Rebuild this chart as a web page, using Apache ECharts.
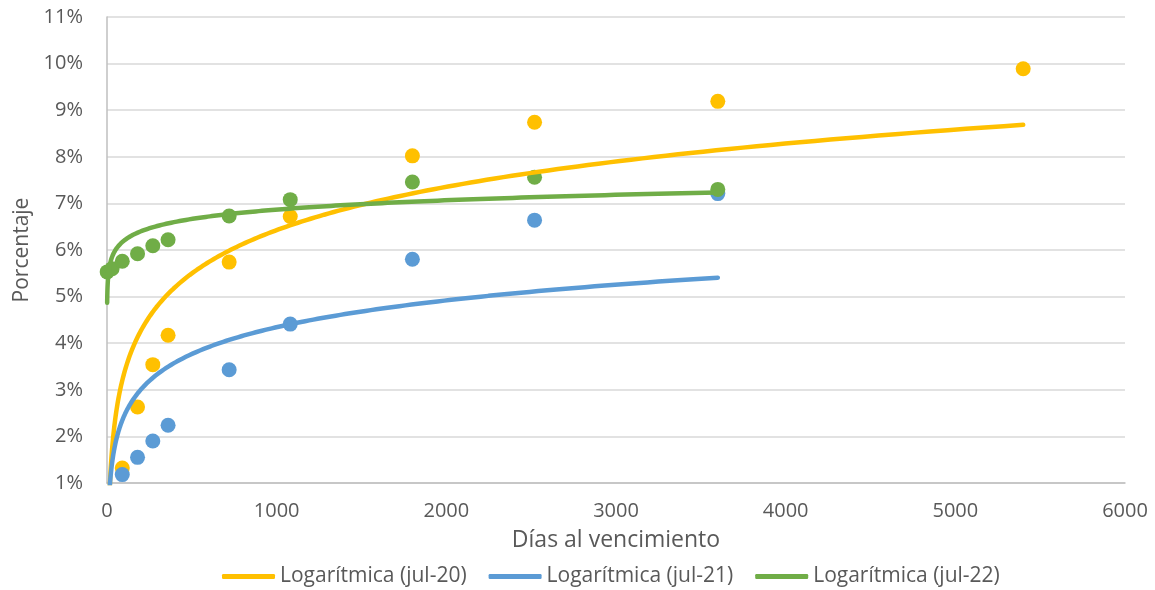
<!DOCTYPE html>
<html>
<head>
<meta charset="utf-8">
<title>Curva de rendimientos</title>
<script src="https://cdn.jsdelivr.net/npm/echarts@6.0.0/dist/echarts.min.js"></script>
<style>
  html, body { margin: 0; padding: 0; background: #ffffff; }
  #chart { width: 1155px; height: 590px; }
</style>
</head>
<body>
<div id="chart"></div>
<script>
// Observed rates (%) by days to maturity
const daysJul20 = [90, 180, 270, 360, 720, 1080, 1800, 2520, 3600, 5400];
const rateJul20 = [1.32, 2.63, 3.54, 4.17, 5.74, 6.72, 8.02, 8.74, 9.19, 9.89];

const daysJul21 = [90, 180, 270, 360, 720, 1080, 1800, 2520, 3600];
const rateJul21 = [1.18, 1.55, 1.90, 2.24, 3.43, 4.41, 5.80, 6.64, 7.21];

const daysJul22 = [1, 30, 90, 180, 270, 360, 720, 1080, 1800, 2520, 3600];
const rateJul22 = [5.53, 5.60, 5.76, 5.92, 6.09, 6.22, 6.73, 7.08, 7.46, 7.56, 7.30];

// Logarithmic trendlines: rate = slope * ln(days) + intercept
const seriesNames    = ['jul-20', 'jul-21', 'jul-22'];
const trendSlope     = [1.34, 0.83, 0.289];
const trendIntercept = [-2.83, -1.39, 4.87];
const trendFrom      = [1, 1, 1];
const trendTo        = [5400, 3600, 3600];

// Axis ticks
const xTicks = { min: 0, max: 6000, step: 1000 };
const yTicks = { min: 1, max: 11, step: 1 };

const colors = ['#FFC000', '#5B9BD5', '#70AD47'];
const textColor = '#595959';
const font = '"Open Sans", "Liberation Sans", sans-serif';

const pointSets = [
  daysJul20.map((d, i) => [d, rateJul20[i]]),
  daysJul21.map((d, i) => [d, rateJul21[i]]),
  daysJul22.map((d, i) => [d, rateJul22[i]])
];

// Sample the fitted log curve over its x range (geometric spacing keeps the steep start smooth)
function trendCurve(k) {
  const x0 = trendFrom[k], x1 = trendTo[k], n = 400, out = [];
  for (let i = 0; i <= n; i++) {
    const x = x0 * Math.pow(x1 / x0, i / n);
    out.push([x, trendSlope[k] * Math.log(x) + trendIntercept[k]]);
  }
  return out;
}

const scatterSeries = pointSets.map((pts, k) => ({
  name: seriesNames[k],
  type: 'scatter',
  data: pts,
  symbol: 'circle',
  symbolSize: 15,
  itemStyle: { color: colors[k], opacity: 1 },
  z: 2 + k,
  clip: true,
  silent: true
}));

const trendSeries = seriesNames.map((nm, k) => ({
  name: 'Logarítmica (' + nm + ')',
  type: 'line',
  data: trendCurve(k),
  showSymbol: false,
  smooth: false,
  clip: true,
  lineStyle: { color: colors[k], width: 4.5, cap: 'round' },
  itemStyle: { color: colors[k] },
  z: 6 + k,
  silent: true
}));

const chart = echarts.init(document.getElementById('chart'), null, { renderer: 'canvas' });

chart.setOption({
  animation: false,
  backgroundColor: '#ffffff',
  textStyle: { fontFamily: font, color: textColor },
  grid: { left: 107, right: 30, top: 17, bottom: 107, containLabel: false },
  legend: {
    data: trendSeries.map(s => s.name),
    left: 217,
    top: 561,
    icon: 'roundRect',
    itemWidth: 53,
    itemHeight: 5,
    itemGap: 22,
    textStyle: { fontFamily: font, fontSize: 21, color: textColor }
  },
  xAxis: {
    type: 'value',
    min: xTicks.min,
    max: xTicks.max,
    interval: xTicks.step,
    name: 'Días al vencimiento',
    nameLocation: 'middle',
    nameGap: 46,
    nameTextStyle: { fontFamily: font, fontSize: 23, color: textColor },
    axisLine: { show: true, lineStyle: { color: '#BFBFBF', width: 1.5 } },
    axisTick: { show: false },
    axisLabel: {
      fontFamily: font, fontSize: 20, color: textColor, margin: 18,
      formatter: v => String(v)
    },
    splitLine: { show: false }
  },
  yAxis: {
    type: 'value',
    min: yTicks.min,
    max: yTicks.max,
    interval: yTicks.step,
    name: 'Porcentaje',
    nameLocation: 'middle',
    nameGap: 72,
    nameTextStyle: { fontFamily: font, fontSize: 21, color: textColor },
    axisLine: { show: true, lineStyle: { color: '#BFBFBF', width: 1.5 } },
    axisTick: { show: false },
    axisLabel: { fontFamily: font, fontSize: 20, color: textColor, margin: 24, formatter: '{value}%' },
    splitLine: { show: true, lineStyle: { color: '#D9D9D9', width: 1.5 } }
  },
  series: scatterSeries.concat(trendSeries)
});
</script>
</body>
</html>
